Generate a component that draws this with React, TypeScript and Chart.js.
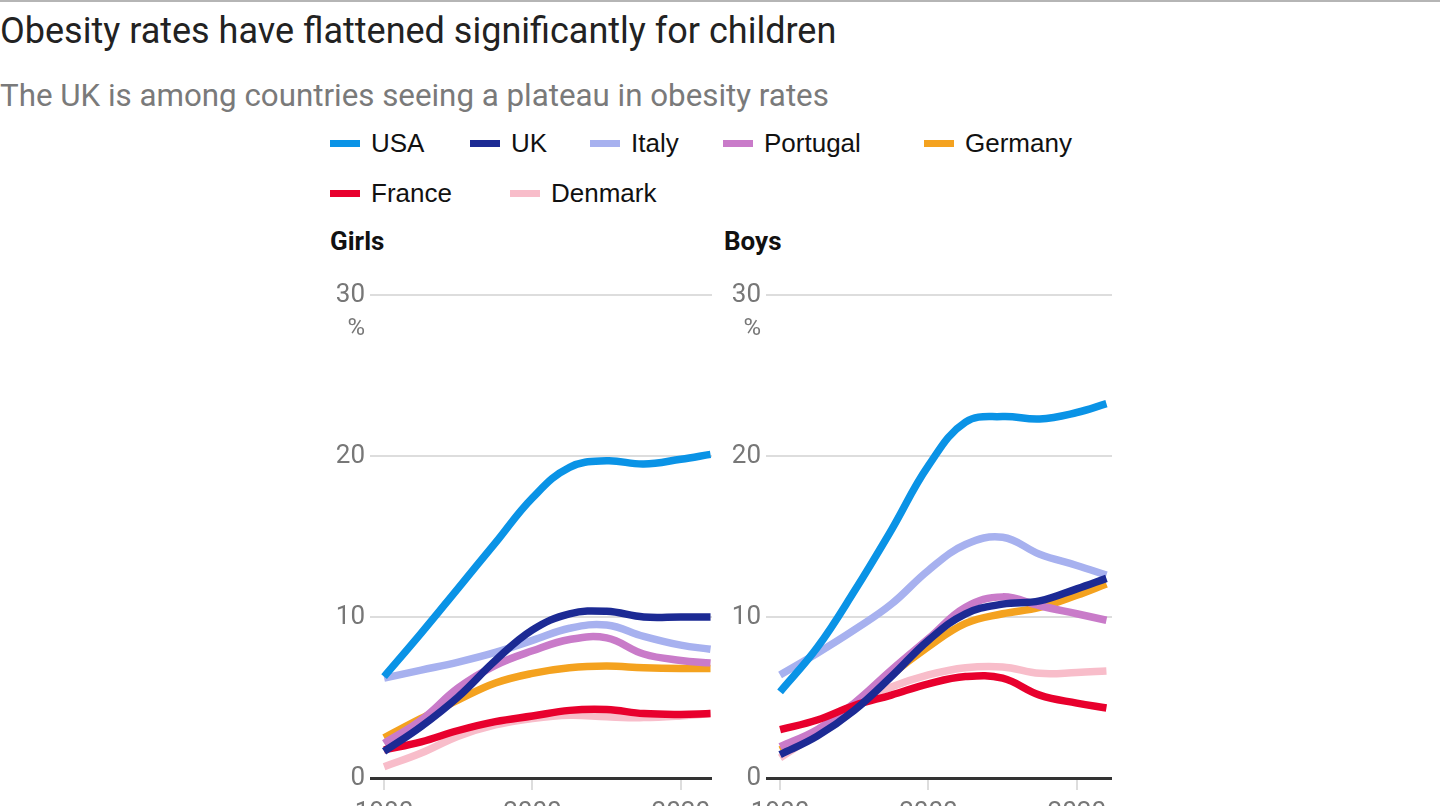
import { useEffect, useRef } from 'react';
import { Chart, registerables } from 'chart.js';
Chart.register(...registerables);

// years sampled from the chart
const years = [1980, 1985, 1990, 1995, 2000, 2005, 2010, 2015, 2020, 2024];

const countries = ['USA', 'UK', 'Italy', 'Portugal', 'Germany', 'France', 'Denmark'];
const colors: Record<string, string> = {
    USA: '#0a93e6',
    UK: '#1c2a94',
    Italy: '#a7b1ef',
    Portugal: '#c97bc9',
    Germany: '#f4a21f',
    France: '#e8002d',
    Denmark: '#f8bdca',
};

// girls obesity, %
const girlsUSA = [6.3, 9.0, 11.8, 14.6, 17.4, 19.3, 19.7, 19.5, 19.8, 20.1];
const girlsUK = [1.65, 3.2, 5.05, 7.3, 9.2, 10.2, 10.35, 10.0, 10.0, 10.0];
const girlsItaly = [6.2, 6.7, 7.2, 7.8, 8.55, 9.3, 9.5, 8.8, 8.25, 8.0];
const girlsPortugal = [2.15, 3.6, 5.6, 7.0, 7.9, 8.6, 8.7, 7.7, 7.3, 7.15];
const girlsGermany = [2.5, 3.7, 4.85, 5.9, 6.5, 6.85, 6.95, 6.85, 6.8, 6.8];
const girlsFrance = [1.75, 2.25, 2.95, 3.5, 3.85, 4.2, 4.25, 4.0, 3.95, 4.0];
const girlsDenmark = [0.7, 1.55, 2.6, 3.3, 3.7, 3.9, 3.8, 3.75, 3.85, 4.0];

// boys obesity, %
const boysUSA = [5.35, 8.1, 11.6, 15.4, 19.4, 22.1, 22.45, 22.3, 22.7, 23.25];
const boysUK = [1.45, 2.6, 4.2, 6.3, 8.55, 10.2, 10.8, 11.0, 11.75, 12.4];
const boysItaly = [6.4, 7.75, 9.2, 10.8, 12.9, 14.5, 14.95, 13.9, 13.2, 12.6];
const boysPortugal = [1.95, 3.0, 4.65, 6.7, 8.65, 10.6, 11.25, 10.7, 10.2, 9.8];
const boysGermany = [1.75, 2.8, 4.3, 6.4, 8.15, 9.6, 10.2, 10.6, 11.35, 12.05];
const boysFrance = [3.0, 3.6, 4.5, 5.15, 5.85, 6.3, 6.2, 5.15, 4.65, 4.35];
const boysDenmark = [1.25, 2.8, 4.6, 5.65, 6.4, 6.85, 6.9, 6.5, 6.55, 6.65];

const girls: Record<string, number[]> = {
    USA: girlsUSA, UK: girlsUK, Italy: girlsItaly, Portugal: girlsPortugal,
    Germany: girlsGermany, France: girlsFrance, Denmark: girlsDenmark,
};
const boys: Record<string, number[]> = {
    USA: boysUSA, UK: boysUK, Italy: boysItaly, Portugal: boysPortugal,
    Germany: boysGermany, France: boysFrance, Denmark: boysDenmark,
};

const xTicks = [1980, 2000, 2020];
const yTicks = [0, 10, 20, 30];

// first dataset is drawn on top
const drawOrder = ['UK', 'USA', 'France', 'Portugal', 'Germany', 'Italy', 'Denmark'];

const tickFont = "'Liberation Sans Narrow', Roboto, sans-serif";

const percentPlugin = {
    id: 'percentLabel',
    afterDraw(chart: any) {
        const { ctx, chartArea, scales } = chart;
        const y = scales.y.getPixelForValue(30);
        ctx.save();
        ctx.fillStyle = '#777';
        ctx.font = `24px ${tickFont}`;
        ctx.textAlign = 'right';
        ctx.textBaseline = 'middle';
        ctx.fillText('%', chartArea.left - 5, y + 34);
        ctx.restore();
    },
};

const Panel = ({ values, xMax }: { values: Record<string, number[]>; xMax: number }) => {
    const chartRef = useRef<HTMLCanvasElement>(null);

    useEffect(() => {
        let myChart: any = null;
        if (chartRef.current) {
            myChart = new Chart(chartRef.current, {
                type: 'line',
                data: {
                    datasets: drawOrder.map((c) => ({
                        label: c,
                        data: years.map((yr, i) => ({ x: yr, y: values[c][i] })),
                        borderColor: colors[c],
                        borderWidth: 7.5,
                        pointRadius: 0,
                        tension: 0.4,
                        fill: false,
                        borderCapStyle: 'butt',
                    })),
                },
                options: {
                    animation: false,
                    responsive: true,
                    maintainAspectRatio: false,
                    layout: { padding: { top: 25, right: 8, left: 0, bottom: 0 } },
                    plugins: { legend: { display: false }, tooltip: { enabled: false } },
                    scales: {
                        x: {
                            type: 'linear',
                            min: 1978.1,
                            max: xMax,
                            afterBuildTicks: (scale: any) => {
                                scale.ticks = xTicks.map((v) => ({ value: v }));
                            },
                            afterFit: (scale: any) => {
                                scale.height = 50;
                            },
                            border: { display: false },
                            grid: {
                                drawOnChartArea: false,
                                drawTicks: true,
                                tickLength: 12,
                                tickColor: '#dddddd',
                                lineWidth: 2,
                            },
                            ticks: {
                                padding: 8,
                                color: '#777',
                                font: { family: tickFont, size: 26 },
                                callback: (v: any) => String(v),
                            },
                        },
                        y: {
                            min: 0,
                            max: 30,
                            afterBuildTicks: (scale: any) => {
                                scale.ticks = yTicks.map((v) => ({ value: v }));
                            },
                            afterFit: (scale: any) => {
                                scale.width = 50;
                            },
                            border: { display: false },
                            grid: {
                                drawTicks: false,
                                color: (ctx: any) => (ctx.tick && ctx.tick.value === 0 ? '#333' : '#dddddd'),
                                lineWidth: (ctx: any) => (ctx.tick && ctx.tick.value === 0 ? 3 : 2),
                            },
                            ticks: {
                                padding: 5,
                                color: '#777',
                                font: { family: tickFont, size: 26 },
                            },
                        },
                    },
                },
                plugins: [percentPlugin],
            });
        }
        return () => {
            if (myChart) {
                myChart.destroy();
            }
        };
    }, []);

    return <canvas ref={chartRef}></canvas>;
};

const legendPos: Record<string, [number, number]> = {
    USA: [330, 143], UK: [470, 143], Italy: [590, 143], Portugal: [723, 143],
    Germany: [924, 143], France: [330, 193], Denmark: [510, 193],
};

const App = () => {
    useEffect(() => {
        document.body.style.margin = '0';
    }, []);

    return (
        <div style={{ position: 'relative', width: 1440, height: 806, overflow: 'hidden', background: '#fff', fontFamily: 'Roboto, sans-serif' }}>
            <div style={{ position: 'absolute', left: 0, top: 0, width: 1440, height: 2, background: '#b5b5b5' }} />
            <div style={{ position: 'absolute', left: 0, top: 10, fontSize: 36, color: '#222', whiteSpace: 'nowrap' }}>
                Obesity rates have flattened significantly for children
            </div>
            <div style={{ position: 'absolute', left: 0, top: 77, fontSize: 31.3, color: '#7a7a7a', whiteSpace: 'nowrap' }}>
                The UK is among countries seeing a plateau in obesity rates
            </div>
            {countries.map((c) => (
                <div key={c} style={{ position: 'absolute', left: legendPos[c][0], top: legendPos[c][1] - 16, height: 32, display: 'flex', alignItems: 'center', whiteSpace: 'nowrap' }}>
                    <span style={{ display: 'inline-block', width: 30, height: 7, background: colors[c], marginRight: 11 }} />
                    <span style={{ fontFamily: "'Liberation Sans', Arial, sans-serif", fontSize: 26, color: '#111' }}>{c}</span>
                </div>
            ))}
            <div style={{ position: 'absolute', left: 330, top: 226, fontSize: 26, fontWeight: 700, color: '#111', fontFamily: tickFont }}>Girls</div>
            <div style={{ position: 'absolute', left: 724, top: 226, fontSize: 26, fontWeight: 700, color: '#111', fontFamily: tickFont }}>Boys</div>
            <div style={{ position: 'absolute', left: 320, top: 270, width: 400, height: 558 }}>
                <Panel values={girls} xMax={2024.2} />
            </div>
            <div style={{ position: 'absolute', left: 716, top: 270, width: 404, height: 558 }}>
                <Panel values={boys} xMax={2024.75} />
            </div>
        </div>
    );
};

export default App;
